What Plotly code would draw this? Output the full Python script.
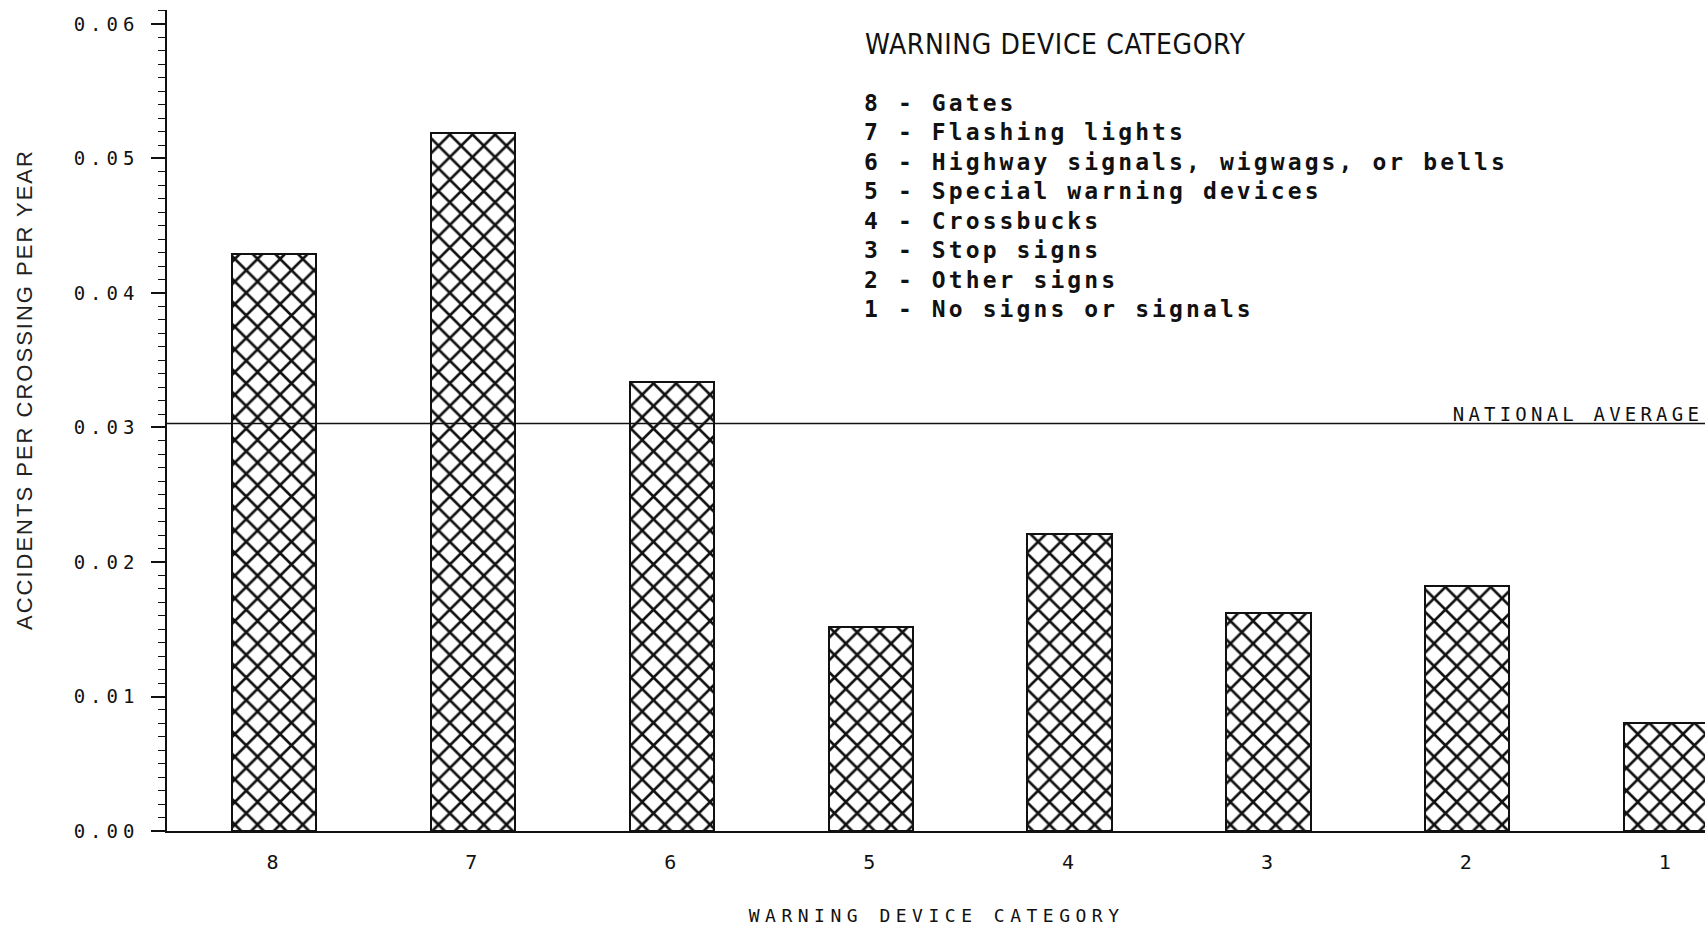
import plotly.graph_objects as go

# ---- data -------------------------------------------------------------
categories = ["8", "7", "6", "5", "4", "3", "2", "1"]
accidents_per_crossing = [0.0429, 0.0519, 0.0334, 0.0152, 0.0221, 0.0162, 0.0182, 0.0080]
national_average = 0.0303

y_tick_values = [0.00, 0.01, 0.02, 0.03, 0.04, 0.05, 0.06]

legend_title = "WARNING DEVICE CATEGORY"
legend_items = [
    "8 - Gates",
    "7 - Flashing lights",
    "6 - Highway signals, wigwags, or bells",
    "5 - Special warning devices",
    "4 - Crossbucks",
    "3 - Stop signs",
    "2 - Other signs",
    "1 - No signs or signals",
]
x_title = "WARNING DEVICE CATEGORY"
y_title = "ACCIDENTS PER CROSSING PER YEAR"
average_label = "NATIONAL AVERAGE"

# ---- page geometry ------------------------------------------------------
W, H = 1705, 928
ML, MR, MT, MB = 167, 0, 10, 97
PW, PH = W - ML - MR, H - MT - MB


def fx(px):
    """Page pixel column -> paper x."""
    return (px - ML) / PW


def fy(py):
    """Page pixel row -> paper y."""
    return (H - MB - py) / PH


INK = "#111111"
MONO = "DejaVu Sans Mono, Liberation Mono, monospace"

fig = go.Figure()

fig.add_trace(
    go.Bar(
        x=categories,
        y=accidents_per_crossing,
        width=0.423,
        marker=dict(
            color="white",
            line=dict(color=INK, width=2),
            pattern=dict(shape="x", size=16, solidity=0.3,
                         fgcolor=INK, bgcolor="white", fillmode="replace"),
        ),
        hoverinfo="x+y",
        showlegend=False,
    )
)

# national average reference line across the whole plotting area
fig.add_shape(
    type="line", xref="x domain", x0=0, x1=1, yref="y",
    y0=national_average, y1=national_average,
    line=dict(color=INK, width=1.5), layer="above",
)

annotations = []
# letter spacing (px) applied to each annotation, in the same order
spacing = []

annotations.append(dict(
    text=legend_title, xref="paper", yref="paper", x=fx(863), y=fy(44),
    xanchor="left", yanchor="middle", showarrow=False, align="left",
    font=dict(family="Liberation Sans Narrow, DejaVu Sans Condensed, Arial Narrow, sans-serif",
              size=28, color=INK),
))
spacing.append(0.6)

for k, item in enumerate(legend_items):
    annotations.append(dict(
        text=item, xref="paper", yref="paper", x=fx(862), y=fy(103 + k * 29.45),
        xanchor="left", yanchor="middle", showarrow=False, align="left",
        font=dict(family=MONO, size=23, color=INK, weight="bold"),
    ))
    spacing.append(3.1)

annotations.append(dict(
    text=average_label, xref="paper", yref="paper", x=fx(1705), y=fy(414),
    xanchor="right", yanchor="middle", showarrow=False, align="right",
    font=dict(family=MONO, size=19, color=INK),
))
spacing.append(4.2)

annotations.append(dict(
    text=x_title, xref="paper", yref="paper", x=fx(936), y=fy(915),
    xanchor="center", yanchor="middle", showarrow=False, align="center",
    font=dict(family=MONO, size=18, color=INK),
))
spacing.append(5.5)

annotations.append(dict(
    text=y_title, xref="paper", yref="paper", x=fx(25), y=fy(390),
    xanchor="center", yanchor="middle", showarrow=False, textangle=-90,
    font=dict(family="Liberation Sans, Arial, sans-serif", size=22, color="#222222"),
))
spacing.append(2.0)

fig.update_layout(
    width=W, height=H,
    margin=dict(l=ML, r=MR, t=MT, b=MB, pad=0),
    paper_bgcolor="white", plot_bgcolor="white",
    bargap=0, showlegend=False,
    annotations=annotations,
    xaxis=dict(
        type="category", range=[-0.538, 7.195],
        showline=True, linecolor=INK, linewidth=1.5,
        showgrid=False, zeroline=False, ticks="",
        tickfont=dict(family=MONO, size=20, color=INK),
        ticklabelstandoff=12,
    ),
    yaxis=dict(
        range=[0, 0.06104],
        showline=True, linecolor=INK, linewidth=1.5,
        showgrid=False, zeroline=False,
        tickvals=y_tick_values, tickformat=".2f",
        ticks="outside", ticklen=14, tickwidth=1.5, tickcolor=INK,
        minor=dict(dtick=0.001, ticks="outside", ticklen=7, tickwidth=1.2, tickcolor=INK),
        tickfont=dict(family=MONO, size=19, color=INK),
        ticklabelstandoff=8,
    ),
)

post_script = """
var gd = document.getElementById('{plot_id}');
var spacing = %s;
function track(sel, px) {
  gd.querySelectorAll(sel).forEach(function (t) { t.style.letterSpacing = px + 'px'; });
}
track('.ytick text', 5);
track('.xtick text', 3);
gd.querySelectorAll('g.annotation').forEach(function (g) {
  var i = parseInt(g.getAttribute('data-index'));
  var v = spacing[i];
  if (v) { g.querySelectorAll('text').forEach(function (t) { t.style.letterSpacing = v + 'px'; }); }
});
""" % (spacing,)

fig.write_html("out.html", post_script=post_script)
